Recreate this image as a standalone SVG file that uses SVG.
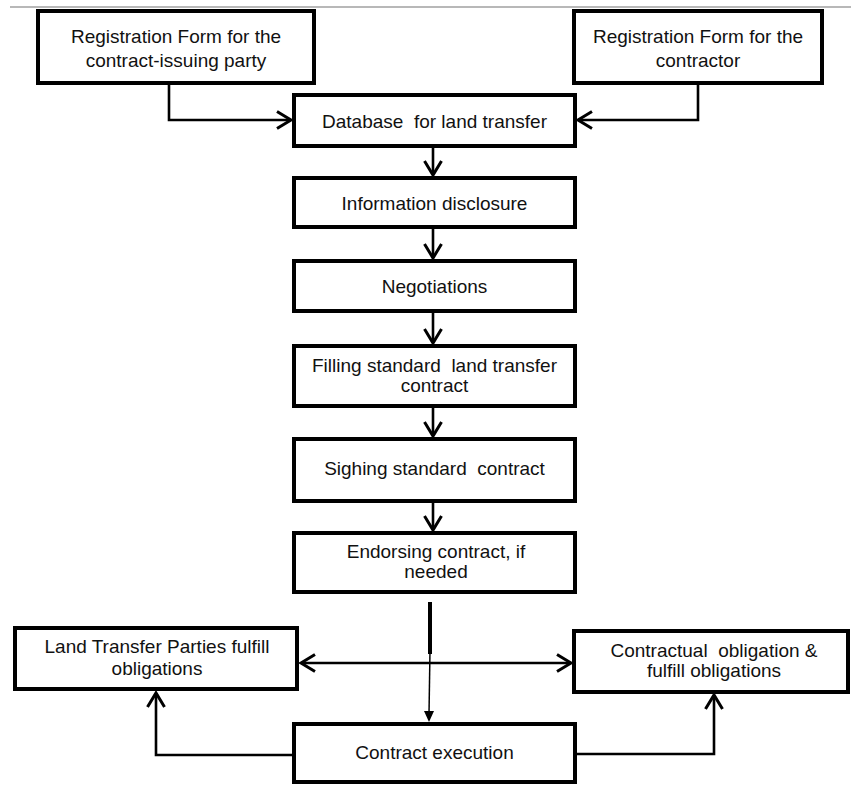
<svg xmlns="http://www.w3.org/2000/svg" width="851" height="785" viewBox="0 0 851 785">
  <style>
    .box { fill: #ffffff; stroke: #000000; stroke-width: 4; }
    .lbl { font-family: "Liberation Sans", Arial, sans-serif; font-size: 19px; fill: #111111; text-anchor: middle; white-space: pre; }
    .conn { fill: none; stroke: #000000; stroke-width: 2.6; }
  </style>
  <defs>
    <marker id="chev" markerUnits="userSpaceOnUse" markerWidth="24" markerHeight="24" viewBox="0 0 24 24" refX="17" refY="12" orient="auto-start-reverse">
      <path d="M3,3.5 L17,12 L3,20.5" fill="none" stroke="#000000" stroke-width="3"/>
    </marker>
  </defs>
  <rect width="851" height="785" fill="#ffffff"/>
  <line x1="10" y1="7" x2="851" y2="7" stroke="#a0a0a0" stroke-width="1.5"/>

  <g id="connectors">
    <path class="conn" d="M169,83 V120 H291" marker-end="url(#chev)"/>
    <path class="conn" d="M698,83 V120 H578" marker-end="url(#chev)"/>
    <path class="conn" d="M433,147 V175" marker-end="url(#chev)"/>
    <path class="conn" d="M433,227 V258" marker-end="url(#chev)"/>
    <path class="conn" d="M433,311 V343" marker-end="url(#chev)"/>
    <path class="conn" d="M433,406 V436" marker-end="url(#chev)"/>
    <path class="conn" d="M433,501 V530" marker-end="url(#chev)"/>
    <line x1="430" y1="602" x2="430" y2="654" stroke="#000000" stroke-width="4"/>
    <line x1="430" y1="650" x2="429" y2="714" stroke="#000000" stroke-width="1.5"/>
    <path d="M424,711 L434,711 L429,722 Z" fill="#000000"/>
    <path class="conn" d="M301,663 H571" marker-start="url(#chev)" marker-end="url(#chev)"/>
    <path class="conn" d="M294,755 H156 V693" marker-end="url(#chev)"/>
    <path class="conn" d="M576,754 H714 V695" marker-end="url(#chev)"/>
  </g>

  <g id="reg-issuing">
    <rect class="box" x="38" y="11" width="276" height="72"/>
    <text class="lbl" x="176" y="43">Registration Form for the</text>
    <text class="lbl" x="176" y="67">contract-issuing party</text>
  </g>
  <g id="reg-contractor">
    <rect class="box" x="574" y="11" width="248" height="72"/>
    <text class="lbl" x="698" y="43">Registration Form for the</text>
    <text class="lbl" x="698" y="67">contractor</text>
  </g>
  <g id="database">
    <rect class="box" x="294" y="95" width="281" height="51"/>
    <text class="lbl" x="434.5" y="128" xml:space="preserve">Database  for land transfer</text>
  </g>
  <g id="disclosure">
    <rect class="box" x="294" y="178" width="281" height="49"/>
    <text class="lbl" x="434.5" y="210">Information disclosure</text>
  </g>
  <g id="negotiations">
    <rect class="box" x="294" y="261" width="281" height="50"/>
    <text class="lbl" x="434.5" y="293">Negotiations</text>
  </g>
  <g id="filling">
    <rect class="box" x="294" y="346" width="281" height="60"/>
    <text class="lbl" x="434.5" y="372" xml:space="preserve">Filling standard  land transfer</text>
    <text class="lbl" x="434.5" y="392">contract</text>
  </g>
  <g id="signing">
    <rect class="box" x="294" y="439" width="281" height="62"/>
    <text class="lbl" x="434.5" y="475" xml:space="preserve">Sighing standard  contract</text>
  </g>
  <g id="endorsing">
    <rect class="box" x="294" y="533" width="281" height="59"/>
    <text class="lbl" x="436" y="558">Endorsing contract, if</text>
    <text class="lbl" x="436" y="578">needed</text>
  </g>
  <g id="parties-fulfill">
    <rect class="box" x="15" y="628" width="282" height="61"/>
    <text class="lbl" x="157" y="653">Land Transfer Parties fulfill</text>
    <text class="lbl" x="157" y="675">obligations</text>
  </g>
  <g id="contractual">
    <rect class="box" x="574" y="631" width="274" height="61"/>
    <text class="lbl" x="714" y="657" xml:space="preserve">Contractual  obligation &amp;</text>
    <text class="lbl" x="714" y="677">fulfill obligations</text>
  </g>
  <g id="execution">
    <rect class="box" x="294" y="724" width="281" height="58"/>
    <text class="lbl" x="434.5" y="759">Contract execution</text>
  </g>
</svg>
